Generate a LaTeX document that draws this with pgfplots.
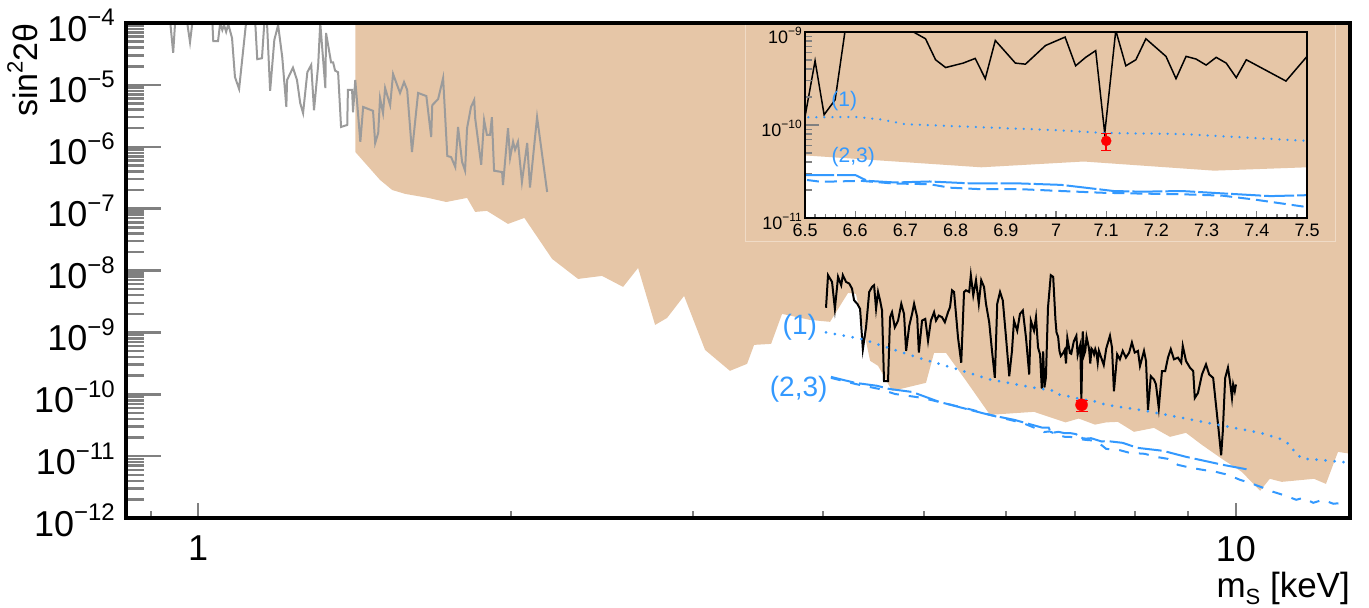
\documentclass[border=0pt]{standalone}
\usepackage{fontspec}
\setmainfont{Liberation Sans}
\usepackage{pgfplots}
\pgfplotsset{compat=1.18}
\usepackage{pgfplotstable}

\definecolor{tanf}{RGB}{230,198,167}
\definecolor{lblue}{RGB}{51,153,255}
\definecolor{gline}{RGB}{155,155,155}
\definecolor{padl}{RGB}{240,219,198}

\newcommand{\tp}[1]{10\raisebox{0.42em}{\fontsize{24bp}{24bp}\selectfont −#1}}
\newcommand{\tps}[1]{10\raisebox{0.42em}{\fontsize{12bp}{12bp}\selectfont −#1}}

\pgfplotstableread{
x y
1.417 2e-4
1.417 8.24e-7
1.497 2.91e-7
1.538 2.0e-7
1.583 1.73e-7
1.666 1.49e-7
1.734 1.28e-7
1.816 1.49e-7
1.849 8.85e-8
1.898 9.2e-8
1.989 5.66e-8
2.062 7.08e-8
2.193 1.54e-8
2.323 7.31e-9
2.450 8.18e-9
2.567 5.43e-9
2.654 1.10e-8
2.756 1.32e-9
2.830 1.71e-9
2.939 3.89e-9
3.079 5.21e-10
3.254 2.39e-10
3.380 3.10e-10
3.433 6.28e-10
3.565 6.52e-10
3.653 1.99e-9
3.887 1.59e-9
4.063 1.48e-9
4.229 4.35e-9
4.304 4.19e-9
4.441 3.47e-10
4.520 2.88e-10
4.663 1.13e-10
5.027 1.53e-10
5.118 4.67e-10
5.255 4.67e-10
5.495 1.65e-10
5.794 4.65e-11
6.389 5.20e-11
6.500 4.71e-11
6.851 3.51e-11
7.055 4.05e-11
7.315 3.23e-11
7.500 3.51e-11
7.696 3.58e-11
7.976 2.47e-11
8.337 2.86e-11
8.638 2.05e-11
8.951 2.38e-11
9.273 1.52e-11
9.694 9.04e-12
10.13 5.57e-12
10.55 2.75e-12
10.78 4.30e-12
11.07 3.84e-12
11.89 4.30e-12
12.21 3.56e-12
12.54 1.17e-11
13.11 1.05e-11
13.11 2e-4
}\tanT

\pgfplotstableread{
x y
0.940 1.0e-4
0.946 3.3e-5
0.950 1.0e-4
0.976 1.0e-4
0.982 4.9e-5
0.987 1.0e-4
1.032 1.0e-4
1.034 5.1e-5
1.045 5.1e-5
1.050 1.0e-4
1.055 7.7e-5
1.059 9.3e-5
1.064 7.2e-5
1.069 9.6e-5
1.078 5.7e-5
1.085 1.34e-5
1.095 8.6e-6
1.112 1.0e-4
1.135 1.0e-4
1.140 2.6e-5
1.152 2.7e-5
1.158 1.0e-4
1.165 1.0e-4
1.173 8.0e-6
1.184 5.3e-5
1.194 9.3e-5
1.205 2.8e-5
1.216 4.4e-6
1.218 1.2e-5
1.234 1.9e-5
1.245 1.2e-5
1.254 5.1e-6
1.262 3.5e-6
1.274 1.6e-5
1.285 2.1e-5
1.293 3.9e-6
1.305 2.1e-5
1.311 1.0e-4
1.326 8.9e-6
1.328 6.9e-5
1.343 2.3e-5
1.349 2.3e-5
1.355 1.7e-5
1.364 1.6e-5
1.373 2.09e-6
1.392 2.25e-6
1.394 8.3e-6
1.407 8.3e-6
1.410 3.6e-6
1.417 1.2e-5
1.433 1.2e-6
1.442 4.4e-6
1.474 3.8e-6
1.481 1.15e-6
1.491 1.67e-6
1.497 6.1e-6
1.507 3.5e-6
1.514 8.9e-6
1.531 4.7e-6
1.541 1.5e-5
1.565 7.4e-6
1.579 1.11e-5
1.590 8.3e-6
1.607 8.2e-7
1.629 7.4e-6
1.659 6.6e-6
1.677 1.44e-6
1.681 4.7e-6
1.703 5.9e-6
1.722 1.29e-5
1.738 7.1e-7
1.753 6.8e-7
1.769 4.7e-7
1.780 2.09e-6
1.796 5.7e-7
1.808 4.1e-7
1.816 2.0e-6
1.832 4.4e-6
1.845 5.7e-6
1.849 2.9e-6
1.874 5.1e-7
1.886 2.7e-6
1.898 1.55e-6
1.911 1.55e-6
1.919 3.0e-6
1.928 4.1e-7
1.963 3.9e-7
1.967 2.4e-7
1.989 2.0e-6
1.998 6.6e-7
2.011 1.2e-6
2.020 8.9e-7
2.033 1.2e-6
2.051 2.7e-7
2.075 1.15e-6
2.088 2.2e-7
2.121 3.0e-6
2.169 1.86e-7
}\grayT

\pgfplotstableread{
x y
4.027 2.50e-9
4.045 8.41e-9
4.081 6.55e-9
4.107 2.40e-9
4.136 7.90e-9
4.165 5.78e-9
4.180 8.41e-9
4.210 6.55e-9
4.240 6.15e-9
4.266 5.10e-9
4.286 3.29e-9
4.316 2.90e-9
4.343 2.40e-9
4.370 5.35e-10
4.401 1.21e-9
4.432 4.50e-9
4.460 5.43e-9
4.480 5.78e-9
4.500 2.40e-9
4.520 4.50e-9
4.540 3.29e-9
4.560 2.26e-9
4.580 1.63e-10
4.621 1.63e-10
4.642 1.76e-9
4.662 2.12e-9
4.691 1.21e-9
4.725 1.55e-9
4.759 2.90e-9
4.788 1.99e-9
4.810 5.02e-10
4.844 1.285e-9
4.874 1.99e-9
4.896 2.90e-9
4.930 1.76e-9
4.948 4.72e-10
4.983 1.55e-9
5.019 1.65e-9
5.050 7.31e-10
5.082 1.55e-9
5.118 2.12e-9
5.140 1.55e-9
5.172 1.87e-9
5.209 1.76e-9
5.242 1.46e-9
5.279 2.12e-9
5.303 2.56e-9
5.326 4.79e-9
5.350 4.50e-9
5.397 8.29e-10
5.436 3.24e-10
5.470 4.50e-9
5.494 4.79e-9
5.533 4.50e-9
5.553 8.41e-9
5.583 3.97e-9
5.617 6.97e-9
5.652 2.90e-9
5.683 6.97e-9
5.718 5.43e-9
5.743 2.90e-9
5.784 1.46e-9
5.820 5.02e-10
5.857 1.84e-10
5.888 2.90e-9
5.925 4.50e-9
5.961 3.29e-9
6.004 8.29e-10
6.047 1.96e-10
6.084 5.02e-10
6.111 1.55e-9
6.155 1.065e-9
6.193 1.99e-9
6.232 2.26e-9
6.276 8.29e-10
6.321 2.09e-10
6.344 1.55e-9
6.389 1.065e-9
6.417 1.76e-9
6.446 5.69e-10
6.475 4.4e-10
6.500 1.23e-10
6.520 4.91e-10
6.538 1.29e-10
6.560 1.87e-10
6.590 2.5e-9
6.631 8.4e-9
6.667 7.9e-9
6.700 1.6e-9
6.716 1.0e-9
6.740 8.46e-10
6.760 5.03e-10
6.780 4.15e-10
6.815 4.63e-10
6.839 5.20e-10
6.859 3.15e-10
6.879 8.11e-10
6.919 4.63e-10
6.939 4.51e-10
6.979 7.16e-10
7.018 8.82e-10
7.039 4.33e-10
7.059 5.34e-10
7.079 6.31e-10
7.097 8.11e-11
7.119 1.04e-9
7.139 4.33e-10
7.159 5.03e-10
7.179 8.46e-10
7.219 5.47e-10
7.239 3.15e-10
7.259 5.47e-10
7.279 5.12e-10
7.299 4.41e-10
7.319 5.34e-10
7.339 4.63e-10
7.359 3.23e-10
7.379 5.03e-10
7.458 2.97e-10
7.500 5.47e-10
7.562 8.83e-10
7.596 5.69e-10
7.629 1.12e-10
7.684 4.43e-10
7.731 3.67e-10
7.780 5.02e-10
7.835 3.91e-10
7.891 4.72e-10
7.940 6.87e-10
7.990 4.72e-10
8.046 5.02e-10
8.082 2.86e-10
8.154 5.02e-10
8.191 3.45e-10
8.227 5.61e-11
8.278 1.96e-10
8.337 1.73e-10
8.374 1.44e-10
8.426 5.97e-11
8.486 2.37e-10
8.547 2.37e-10
8.600 3.91e-10
8.654 5.35e-10
8.715 3.67e-10
8.793 3.91e-10
8.856 3.24e-10
8.887 6.06e-10
8.951 3.45e-10
9.030 2.69e-10
9.095 2.37e-10
9.127 8.70e-11
9.192 1.05e-10
9.274 2.09e-10
9.357 3.04e-10
9.423 2.09e-10
9.507 1.84e-10
9.566 6.77e-11
9.626 2.49e-11
9.677 1.03e-11
9.712 2.49e-11
9.764 1.84e-10
9.824 2.69e-10
9.868 1.63e-10
9.912 8.70e-11
9.938 1.44e-10
9.974 1.12e-10
10.000 1.44e-10
}\blackT

\pgfplotstableread{
x y
4.027 1.0e-9
4.362 7.8e-10
4.939 3.9e-10
5.397 2.52e-10
5.795 1.73e-10
6.500 1.21e-10
6.600 1.22e-10
6.650 1.15e-10
6.700 1.02e-10
7.000 8.8e-11
7.100 8.2e-11
7.250 8.0e-11
7.500 6.75e-11
8.185 5.39e-11
9.502 3.33e-11
10.55 2.38e-11
11.03 1.90e-11
11.28 1.52e-11
11.40 1.13e-11
11.60 9.04e-12
12.06 8.71e-12
12.89 7.79e-12
13.20 7.6e-12
}\oneT

\pgfplotstableread{
x y
4.071 1.91e-10
4.295 1.53e-10
4.510 1.37e-10
4.632 1.22e-10
4.874 1.09e-10
5.176 7.54e-11
5.447 6.03e-11
5.784 4.65e-11
6.115 3.86e-11
6.500 2.90e-11
6.600 2.90e-11
6.624 2.51e-11
6.680 2.41e-11
6.748 2.47e-11
6.835 2.35e-11
6.931 2.35e-11
7.011 2.27e-11
7.115 1.95e-11
7.171 1.92e-11
7.251 1.95e-11
7.331 1.84e-11
7.427 1.72e-11
7.500 1.76e-11
7.778 1.64e-11
8.040 1.36e-11
8.503 1.22e-11
8.950 9.75e-12
9.232 8.71e-12
9.714 7.23e-12
10.31 6.0e-12
}\twoT

\pgfplotstableread{
x y
4.071 1.84e-10
4.295 1.47e-10
4.529 1.22e-10
4.694 1.01e-10
4.984 8.75e-11
5.269 7.0e-11
5.570 5.6e-11
5.888 4.32e-11
6.225 3.45e-11
6.500 2.58e-11
6.532 2.45e-11
6.612 2.51e-11
6.676 2.35e-11
6.748 2.31e-11
6.788 2.12e-11
6.851 2.04e-11
6.931 2.04e-11
7.011 1.95e-11
7.091 1.87e-11
7.171 1.83e-11
7.251 1.80e-11
7.331 1.74e-11
7.395 1.58e-11
7.500 1.31e-11
7.726 1.25e-11
7.900 1.13e-11
8.168 1.09e-11
8.370 9.75e-12
8.596 9.04e-12
8.790 7.23e-12
9.049 6.47e-12
9.293 6.0e-12
9.565 5.57e-12
9.824 4.99e-12
10.09 4.14e-12
10.31 3.71e-12
10.62 3.08e-12
10.86 2.65e-12
11.18 2.28e-12
11.43 1.97e-12
11.61 2.12e-12
11.87 1.76e-12
12.13 1.97e-12
12.41 1.70e-12
12.69 1.76e-12
12.97 1.63e-12
}\threeT

\begin{document}
\begin{tikzpicture}
\path[use as bounding box] (0,0) rectangle (1369bp,608bp);
\begin{axis}[
  at={(126bp,90bp)}, anchor=south west, scale only axis,
  width=1224bp, height=495bp,
  xmode=log, ymode=log,
  xmin=0.852, xmax=12.88, ymin=1e-12, ymax=1e-4,
  axis on top,
  axis line style={line width=4bp},
  xtick={1,10}, xticklabels={1,10},
  minor xtick={0.9,2,3,4,5,6,7,8,9},
  ytick={1e-12,1e-11,1e-10,1e-9,1e-8,1e-7,1e-6,1e-5,1e-4},
  yticklabels={\tp{12},\tp{11},\tp{10},\tp{9},\tp{8},\tp{7},\tp{6},\tp{5},\tp{4}},
  minor ytick={2e-12,3e-12,4e-12,5e-12,6e-12,7e-12,8e-12,9e-12,
    2e-11,3e-11,4e-11,5e-11,6e-11,7e-11,8e-11,9e-11,
    2e-10,3e-10,4e-10,5e-10,6e-10,7e-10,8e-10,9e-10,
    2e-9,3e-9,4e-9,5e-9,6e-9,7e-9,8e-9,9e-9,
    2e-8,3e-8,4e-8,5e-8,6e-8,7e-8,8e-8,9e-8,
    2e-7,3e-7,4e-7,5e-7,6e-7,7e-7,8e-7,9e-7,
    2e-6,3e-6,4e-6,5e-6,6e-6,7e-6,8e-6,9e-6,
    2e-5,3e-5,4e-5,5e-5,6e-5,7e-5,8e-5,9e-5},
  xtick pos=bottom, ytick pos=left, tick align=inside,
  xtick style={line width=2bp, /pgfplots/major tick length=15bp, /pgfplots/minor tick length=7bp},
  ytick style={line width=2.5bp, /pgfplots/major tick length=35bp, /pgfplots/minor tick length=18bp},
  tick label style={font=\fontsize{36bp}{40bp}\selectfont},
  xticklabel style={inner sep=0pt, yshift=-18bp},
  yticklabel style={anchor=base east, inner sep=0pt, xshift=-11bp, yshift=-18bp},
]
\addplot[fill=tanf, draw=none] table {\tanT};
\addplot[gline, line width=2bp] table {\grayT};
\addplot[black, line width=2bp] table {\blackT};
\addplot[lblue, line width=3bp, line cap=round, dash pattern=on 0bp off 9bp] table {\oneT};
\addplot[lblue, line width=2bp, dash pattern=on 24bp off 5bp] table {\twoT};
\addplot[lblue, line width=2bp, dash pattern=on 10bp off 10bp] table {\threeT};
\addplot[red, only marks, mark=*, mark size=6bp,
  error bars/.cd, y dir=both, y explicit, error bar style={red, line width=2bp}]
  coordinates {(7.1,6.75e-11) +- (0,1.4e-11)};
\node[lblue, font=\fontsize{28bp}{30bp}\selectfont] at (axis cs:3.80,1.23e-9) {(1)};
\node[lblue, font=\fontsize{28bp}{30bp}\selectfont] at (axis cs:3.79,1.22e-10) {(2,3)};
\end{axis}

\node[rotate=90, anchor=base east, inner sep=0pt, font=\fontsize{34bp}{36bp}\selectfont]
  at (37bp,585bp) {sin\raisebox{0.42em}{\fontsize{22bp}{22bp}\selectfont 2}2θ};
\node[anchor=base east, inner sep=0pt, font=\fontsize{35bp}{36bp}\selectfont]
  at (1350bp,11bp) {m\raisebox{-0.22em}{\fontsize{22bp}{22bp}\selectfont S} [keV]};

\draw[padl, line width=1bp] (745bp,583bp) -- (745bp,366bp) -- (1335bp,366bp) -- (1335bp,583bp);

\begin{axis}[
  at={(805bp,390bp)}, anchor=south west, scale only axis,
  width=502bp, height=186bp,
  xmin=6.5, xmax=7.5, ymode=log, ymin=1e-11, ymax=1e-9,
  axis background/.style={fill=white},
  axis on top,
  axis line style={line width=2bp},
  xtick={6.5,6.6,6.7,6.8,6.9,7,7.1,7.2,7.3,7.4,7.5},
  xticklabels={6.5,6.6,6.7,6.8,6.9,7,7.1,7.2,7.3,7.4,7.5},
  minor x tick num=4,
  ytick={1e-11,1e-10,1e-9}, yticklabels={\tps{11},\tps{10},\tps{9}},
  minor ytick={2e-11,3e-11,4e-11,5e-11,6e-11,7e-11,8e-11,9e-11,
    2e-10,3e-10,4e-10,5e-10,6e-10,7e-10,8e-10,9e-10},
  xtick pos=bottom, ytick pos=left, tick align=inside,
  xtick style={line width=1.2bp, /pgfplots/major tick length=7bp, /pgfplots/minor tick length=4bp},
  ytick style={line width=1.5bp, /pgfplots/major tick length=14bp, /pgfplots/minor tick length=7bp},
  tick label style={font=\fontsize{18bp}{20bp}\selectfont},
  xticklabel style={inner sep=0pt, yshift=-6bp},
  yticklabel style={anchor=base east, inner sep=0pt, xshift=-3bp, yshift=-11bp},
]
\addplot[fill=tanf, draw=none] table {\tanT};
\addplot[black, line width=1.5bp] table {\blackT};
\addplot[lblue, line width=2.5bp, line cap=round, dash pattern=on 0bp off 8bp] table {\oneT};
\addplot[lblue, line width=2bp, dash pattern=on 30bp off 3bp] table {\twoT};
\addplot[lblue, line width=2bp, dash pattern=on 12bp off 6bp] table {\threeT};
\addplot[red, only marks, mark=*, mark size=5bp,
  error bars/.cd, y dir=both, y explicit, error bar style={red, line width=1.5bp}]
  coordinates {(7.1,6.75e-11) +- (0,1.4e-11)};
\node[lblue, font=\fontsize{21bp}{23bp}\selectfont] at (axis cs:6.578,1.8e-10) {(1)};
\node[lblue, font=\fontsize{21bp}{23bp}\selectfont] at (axis cs:6.596,4.5e-11) {(2,3)};
\end{axis}
\end{tikzpicture}
\end{document}
